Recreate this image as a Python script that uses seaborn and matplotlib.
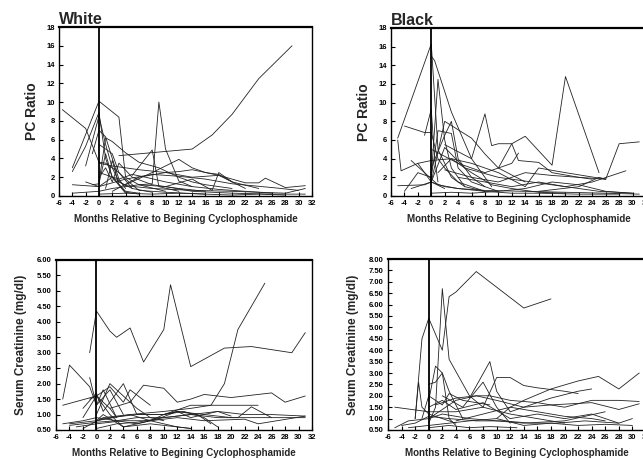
import numpy as np
import pandas as pd
import matplotlib
matplotlib.use("Agg")
import matplotlib.pyplot as plt
import seaborn as sns

# months relative to start of cyclophosphamide, value per visit
white_pc = [
    ([3, 14, 17, 20, 24, 29], [4.3, 5.0, 6.5, 8.7, 12.5, 16.0]),
    ([-5.5, -2, 0, 1, 3, 5], [9.2, 7.2, 3.6, 3.5, 2.5, 0.8]),
    ([-4, 0, 3, 4, 6, 10], [3.0, 10.1, 8.4, 2.0, 1.2, 0.5]),
    ([-4, -2, 0, 1, 2, 4], [2.6, 5.3, 8.9, 4.0, 2.0, 0.3]),
    ([-2, 0, 1, 2, 3, 5, 8], [3.2, 8.5, 5.5, 3.0, 1.5, 0.8, 0.4]),
    ([-1, 0, 1, 2, 3, 4], [4.5, 7.0, 6.3, 4.0, 1.8, 0.8]),
    ([0, 1, 2, 4, 6, 9, 12, 14, 16, 18, 20], [1.5, 6.2, 5.8, 4.6, 3.6, 3.0, 2.0, 1.5, 1.2, 1.0, 0.8]),
    ([6, 8, 9, 10, 12, 14], [1.2, 1.3, 10.0, 5.0, 1.6, 1.0]),
    ([5, 8, 9, 12], [2.2, 4.9, 1.0, 0.5]),
    ([0, 2, 6, 10, 12, 14, 18, 22, 24, 25, 28, 31], [3.5, 3.2, 2.8, 2.5, 2.6, 2.8, 2.2, 1.4, 1.4, 1.9, 0.9, 1.1]),
    ([4, 8, 12, 14, 16, 18, 20], [1.2, 2.5, 3.9, 3.0, 2.5, 2.3, 1.5]),
    ([10, 14, 17, 18, 20, 24], [1.0, 1.8, 0.6, 2.5, 1.5, 0.8]),
    ([-4, 0, 4, 8, 12, 16, 20, 26, 30], [1.2, 1.0, 1.8, 2.3, 2.1, 1.8, 1.3, 0.9, 0.6]),
    ([-2, 0, 2, 4, 6], [1.5, 1.0, 2.0, 0.5, 0.3]),
    ([0, 2, 3, 4, 6, 10, 16], [5.5, 4.5, 2.5, 1.8, 0.6, 0.4, 0.2]),
    ([-1, 0, 1, 2, 4, 8, 14, 20, 24, 28, 31], [1.2, 1.3, 4.5, 2.0, 1.1, 0.8, 0.6, 0.5, 0.4, 0.3, 0.8]),
    ([0, 3, 5, 7, 10, 14, 18, 22, 26], [2.5, 1.8, 2.3, 2.0, 1.5, 1.0, 0.7, 0.5, 0.3]),
    ([1, 2, 3, 4, 6], [0.8, 3.8, 1.2, 0.4, 0.2]),
    ([-4, 0, 2, 6, 10, 14, 20, 26, 31], [0.3, 0.5, 0.8, 1.2, 1.0, 0.5, 0.3, 0.2, 0.2]),
    ([0, 1, 2, 3, 5, 8, 12, 16], [2.0, 3.0, 1.5, 3.5, 2.0, 1.2, 0.8, 0.5]),
    ([2, 6, 10, 14, 18, 22], [0.5, 2.0, 2.5, 2.0, 2.2, 0.8]),
    ([0, 4, 8, 12, 16, 20, 24, 28], [0.2, 0.3, 0.2, 0.3, 0.2, 0.1, 0.2, 0.1]),
]

black_pc = [
    ([-5, 0, 1, 3, 5, 8], [6.2, 16.3, 5.0, 2.0, 1.0, 0.5]),
    ([-5, -4.5, -2, 0, 2], [6.0, 2.7, 3.5, 1.5, 0.8]),
    ([0, 0.5, 3, 6, 9], [15.0, 14.5, 9.0, 4.0, 1.0]),
    ([0, 1, 2, 3, 5], [2.0, 12.5, 6.0, 3.0, 1.0]),
    ([-4, -1, 0, 1, 2, 4, 8], [7.5, 6.8, 6.8, 4.0, 3.0, 1.5, 0.5]),
    ([0, 2, 3, 4, 6, 8], [3.0, 6.5, 8.0, 4.0, 2.0, 1.0]),
    ([0, 2, 6, 8, 10, 14], [1.5, 8.0, 6.2, 4.5, 3.0, 1.5]),
    ([2, 6, 8, 9, 10, 12, 13, 16, 18, 22, 26], [5.5, 4.0, 8.8, 5.4, 5.6, 5.6, 3.8, 3.6, 2.5, 2.0, 1.8]),
    ([10, 12, 14, 18, 20, 25], [3.0, 5.6, 6.4, 3.3, 12.8, 2.5]),
    ([16, 22, 25, 26, 28, 31], [0.5, 1.0, 2.0, 1.8, 5.6, 5.8]),
    ([4, 8, 12, 16, 20, 24, 29], [2.0, 1.5, 1.0, 1.5, 1.0, 1.5, 2.7]),
    ([-1, 0, 0.5, 1], [6.5, 9.3, 4.0, 1.5]),
    ([-2, 0, 3, 6, 10, 14, 16, 20, 26], [3.5, 3.8, 4.0, 3.5, 2.5, 1.0, 3.0, 2.5, 1.8]),
    ([-5, -1, 0, 2, 4, 8, 14, 20, 26, 31], [1.1, 1.2, 1.5, 1.0, 0.8, 0.6, 0.5, 0.4, 0.3, 0.2]),
    ([-4, -2, 0, 1, 3, 4, 6, 10], [0.5, 2.5, 2.0, 7.0, 6.7, 3.0, 1.5, 0.5]),
    ([-3, 0, 2, 5, 10, 15, 20, 25, 30], [0.8, 1.5, 5.2, 3.0, 2.0, 1.5, 1.0, 0.5, 0.3]),
    ([0, 4, 8, 12, 13], [5.0, 3.5, 2.5, 3.5, 4.6]),
    ([1, 3, 6, 9, 12, 16, 20], [2.5, 4.0, 2.5, 1.2, 0.8, 0.4, 0.3]),
    ([-3, -1, 1, 4, 8, 12, 16, 22, 28], [3.8, 2.5, 1.2, 0.8, 0.5, 0.3, 0.3, 0.2, 0.2]),
    ([0, 3, 6, 10, 14, 18, 22, 26, 30], [0.3, 0.4, 0.3, 0.5, 0.8, 1.5, 1.2, 0.5, 0.3]),
    ([2, 6, 10, 14, 18, 22, 24], [2.8, 2.0, 1.5, 2.5, 2.2, 2.0, 1.8]),
]

white_scr = [
    ([-1, 0, 2, 3, 5, 7, 10, 11, 14, 19, 23, 29, 31], [3.0, 4.35, 3.7, 3.5, 3.8, 2.7, 3.75, 5.2, 2.55, 3.15, 3.2, 3.0, 3.65]),
    ([0, 5, 10, 14, 17, 19, 21, 25], [0.8, 1.0, 1.1, 1.2, 1.3, 2.0, 3.75, 5.25]),
    ([-5, -4, -1, 0, 2, 4], [1.5, 2.6, 1.9, 1.3, 1.8, 1.0]),
    ([-1, 0, 1, 3], [2.2, 1.3, 1.8, 0.9]),
    ([2, 5, 7, 10, 12, 14, 16, 20, 26, 28, 31], [1.2, 1.4, 1.95, 1.85, 1.4, 1.5, 1.65, 1.55, 1.7, 1.4, 1.6]),
    ([-5, 0, 2, 4, 5, 8], [1.3, 1.6, 1.9, 1.4, 1.8, 1.3]),
    ([0, 2, 4, 6, 8, 10], [1.0, 2.0, 1.6, 1.2, 0.9, 0.8]),
    ([-2, 0, 1, 4, 6, 10, 14, 18, 22, 24], [1.2, 1.7, 1.1, 2.0, 1.0, 1.0, 1.3, 1.3, 1.3, 1.3]),
    ([-4, 0, 2, 6, 10, 12, 16, 20, 26], [0.7, 0.8, 0.9, 1.0, 1.0, 1.1, 1.0, 0.9, 0.9]),
    ([-5, -2, 0, 3, 6, 10, 14, 18, 22, 26, 31], [0.7, 0.8, 0.9, 0.8, 0.9, 0.9, 1.0, 1.1, 1.0, 1.0, 0.95]),
    ([-4, 0, 3, 6, 9, 12, 15, 17], [0.65, 0.75, 0.8, 0.7, 0.85, 1.1, 1.0, 0.7]),
    ([-2, 0, 2, 4, 8, 12, 14], [0.9, 1.6, 1.0, 0.6, 0.7, 0.6, 0.55]),
    ([0, 3, 6, 10, 14, 18, 21, 23, 26, 31], [0.55, 0.7, 0.75, 0.9, 1.0, 0.9, 0.9, 1.25, 0.9, 0.9]),
    ([-3, 0, 2, 4, 8, 12, 16, 22, 24, 31], [0.6, 0.7, 0.75, 0.8, 0.8, 0.9, 0.8, 0.85, 0.7, 0.95]),
    ([0, 1, 4, 8, 10, 13, 16, 18], [0.8, 1.0, 0.6, 0.8, 1.0, 1.1, 0.9, 0.6]),
    ([-1, 0, 2, 3], [1.5, 1.6, 1.2, 0.9]),
    ([10, 12, 14, 16, 18, 20], [1.0, 1.1, 0.9, 1.0, 1.1, 0.95]),
    ([-2, 1, 5, 8, 12, 14], [0.55, 0.9, 1.0, 0.8, 0.6, 0.55]),
]

black_scr = [
    ([-2, -1, 0, 2, 3, 4, 7, 14, 18], [1.0, 4.5, 5.4, 4.0, 6.35, 6.55, 7.45, 5.85, 6.25]),
    ([0, 1, 2, 3, 6, 8], [0.8, 1.5, 6.7, 3.6, 2.0, 1.5]),
    ([-2, -1.5, -1, 0, 2, 4], [1.0, 2.6, 1.5, 1.2, 1.0, 0.8]),
    ([0, 1, 2, 3, 5], [1.8, 3.3, 3.0, 2.2, 1.0]),
    ([0, 1, 2, 3, 4], [2.5, 2.6, 3.0, 1.0, 0.7]),
    ([6, 9, 10, 12], [1.9, 3.5, 2.2, 1.3]),
    ([8, 10, 12, 14, 16, 20, 22], [1.5, 2.8, 2.8, 2.45, 2.35, 2.2, 2.1]),
    ([10, 12, 14, 18, 22, 25, 28, 31], [1.0, 1.5, 1.8, 2.3, 2.65, 2.85, 2.3, 3.0]),
    ([12, 16, 18, 22, 24], [1.3, 1.7, 1.9, 2.2, 2.3]),
    ([0, 4, 7, 9, 12, 16, 20, 24, 28, 31], [1.0, 1.8, 2.0, 2.0, 1.8, 1.7, 1.5, 1.8, 1.8, 1.75]),
    ([1, 4, 7, 10, 14, 18, 24, 28, 31], [1.6, 1.9, 2.0, 1.8, 1.5, 1.6, 1.7, 1.4, 1.65]),
    ([-5, 0, 4, 8, 12, 16, 20], [1.5, 1.3, 1.3, 1.5, 1.2, 1.0, 0.8]),
    ([-5, -3, 0, 2, 6, 10, 14, 20, 26], [0.6, 0.9, 1.0, 1.2, 1.0, 0.9, 0.8, 0.9, 1.3]),
    ([-4, -2, 0, 3, 7, 11, 15, 19, 23, 28, 30], [0.7, 0.8, 1.1, 1.0, 0.9, 0.9, 0.8, 0.8, 0.9, 0.8, 1.0]),
    ([0, 2, 4, 8, 12, 16, 20, 24, 28], [1.5, 1.8, 1.4, 1.7, 1.0, 1.2, 1.0, 1.2, 0.8]),
    ([-3, 0, 3, 6, 10, 14, 18, 22, 26, 30], [0.6, 0.7, 0.8, 0.9, 1.0, 0.7, 0.8, 0.7, 0.75, 0.7]),
    ([2, 5, 8, 10, 12], [2.0, 1.5, 2.6, 1.5, 0.8]),
    ([0, 3, 6, 9, 13], [0.6, 0.7, 0.6, 0.65, 0.6]),
    ([4, 8, 12, 16, 20, 24, 26], [0.9, 1.2, 1.5, 1.3, 1.1, 1.0, 0.9]),
    ([-1, 0, 2, 3, 5, 9], [1.0, 2.0, 1.6, 2.1, 1.8, 1.6]),
]

month_ticks = list(range(-6, 33, 2))
pc_ticks = list(range(0, 19, 2))
white_scr_ticks = [0.5 + 0.5 * i for i in range(12)]
black_scr_ticks = [0.5 + 0.5 * i for i in range(16)]


def to_long(series):
    rows = []
    for k, (m, v) in enumerate(series):
        for mm, vv in zip(m, v):
            rows.append({"subject": k, "month": mm, "value": vv})
    return pd.DataFrame(rows)


sns.set_style("ticks")
plt.rcParams["font.family"] = ["Liberation Sans", "DejaVu Sans"]
plt.rcParams["font.weight"] = "bold"

fig = plt.figure(figsize=(6.43, 4.59), dpi=100)
W, H = 643, 459


def add_axes(px_left, px_top, px_w, px_h):
    return fig.add_axes([px_left / W, 1 - (px_top + px_h) / H, px_w / W, px_h / H])


panels = [
    (add_axes(59, 27, 253, 169), white_pc, (0, 18), pc_ticks, "PC Ratio", "White", "%d"),
    (add_axes(391, 28, 255, 168), black_pc, (0, 18), pc_ticks, "PC Ratio", "Black", "%d"),
    (add_axes(56, 260, 256, 170), white_scr, (0.5, 6.0), white_scr_ticks, "Serum Creatinine (mg/dl)", None, "%.2f"),
    (add_axes(388, 259, 258, 171), black_scr, (0.5, 8.0), black_scr_ticks, "Serum Creatinine (mg/dl)", None, "%.2f"),
]

for ax, series, ylim, yticks, ylab, title, fmt in panels:
    df = to_long(series)
    sns.lineplot(data=df, x="month", y="value", units="subject", estimator=None,
                 color="#222222", linewidth=0.6, sort=False, ax=ax, legend=False)
    ax.axvline(0, color="black", linewidth=1.3)
    ax.set_xlim(-6, 32)
    ax.set_ylim(*ylim)
    ax.set_xticks(month_ticks)
    ax.set_xticklabels([str(t) for t in month_ticks])
    ax.set_yticks(yticks)
    ax.set_yticklabels([fmt % t for t in yticks])
    ax.tick_params(direction="in", length=3, width=0.8, labelsize=5.5, pad=3, colors="black")
    for lab in ax.get_xticklabels() + ax.get_yticklabels():
        lab.set_fontweight("bold")
    for s in ax.spines.values():
        s.set_visible(True)
        s.set_linewidth(1.0)
        s.set_color("black")
    ax.spines["top"].set_linewidth(1.6)
    ax.set_xlabel("Months Relative to Begining Cyclophosphamide", fontsize=7, fontweight="bold", labelpad=5)
    if ylab == "PC Ratio":
        ax.set_ylabel(ylab, fontsize=10, fontweight="bold", labelpad=5)
    else:
        ax.set_ylabel(ylab, fontsize=8.5, fontweight="bold", labelpad=7)
    if title:
        ax.set_title(title, fontsize=11.5, fontweight="bold", loc="left", pad=2)

fig.savefig("out.png", dpi=100)
